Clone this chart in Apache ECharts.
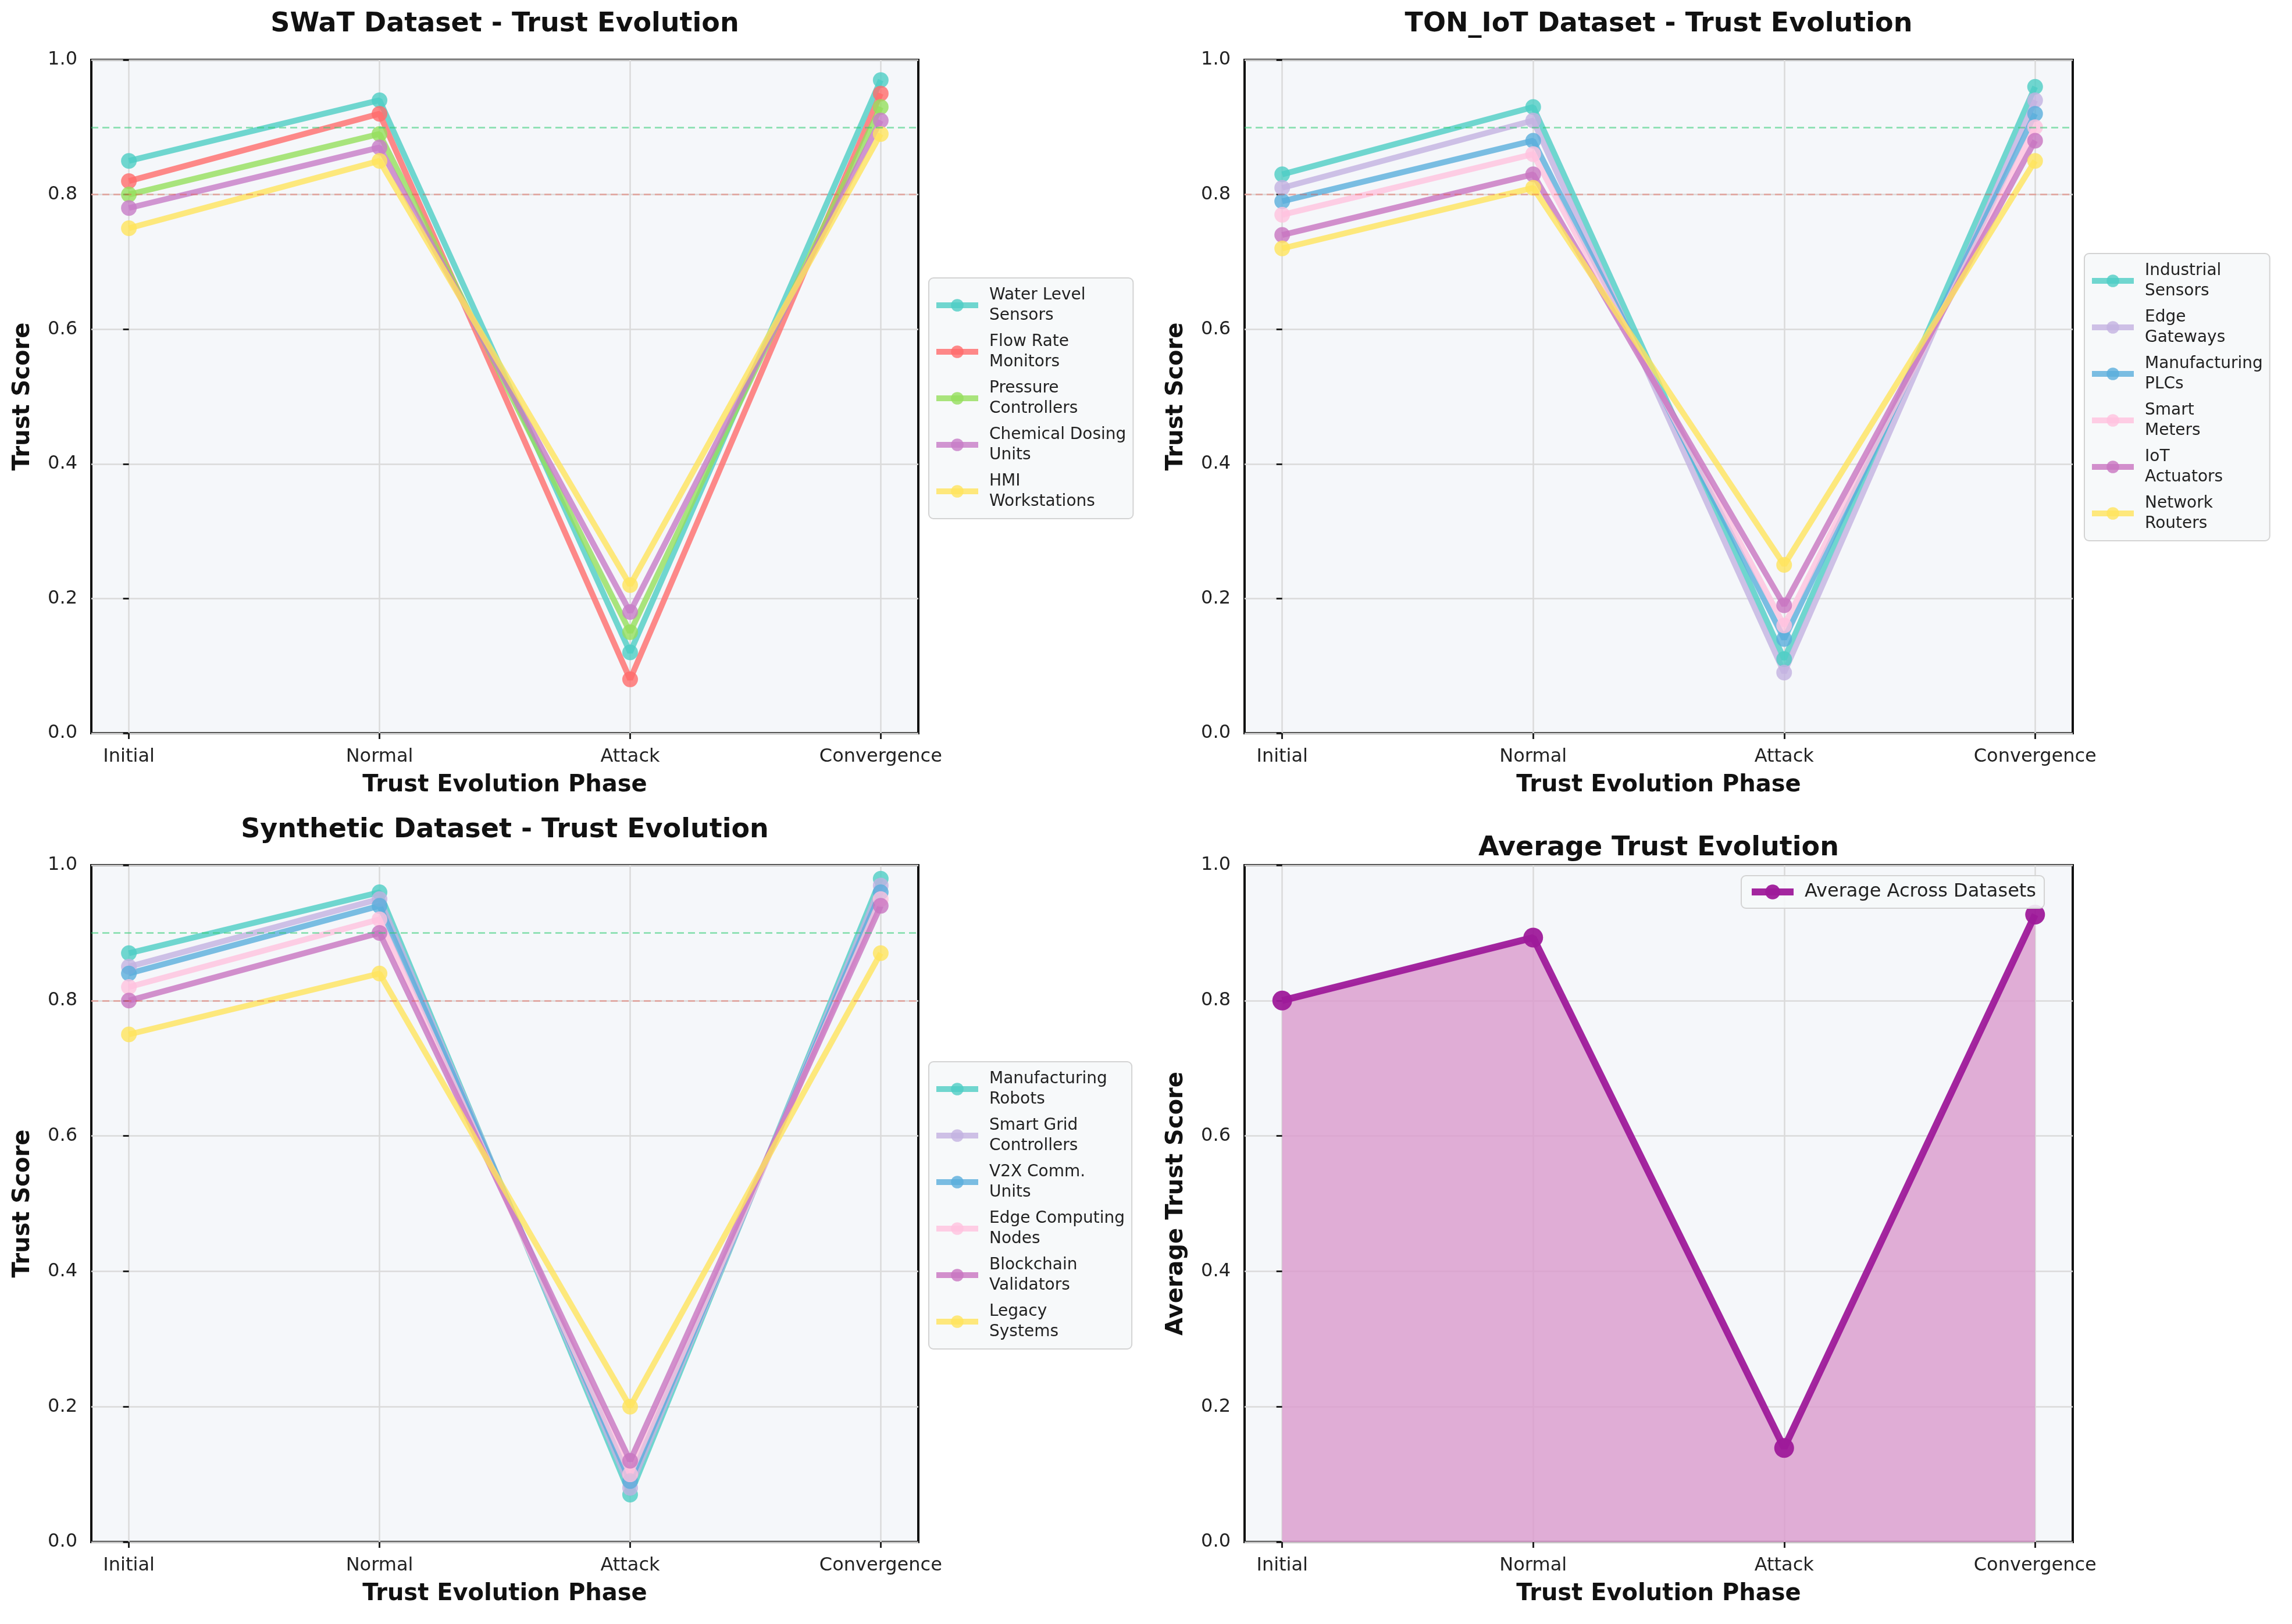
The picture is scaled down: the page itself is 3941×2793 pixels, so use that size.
<!DOCTYPE html>
<html>
<head>
<meta charset="utf-8">
<script src="https://cdn.jsdelivr.net/npm/echarts@6/dist/echarts.min.js"></script>
<style>
  html, body { margin: 0; padding: 0; background: #ffffff; }
  #main { width: 3941px; height: 2793px; }
</style>
</head>
<body>
<div id="main"></div>
<script>
// ---------- data ----------
const phases = ['Initial', 'Normal', 'Attack', 'Convergence'];
const thresholds = [0.9, 0.8];

// SWaT
const swatNames = ['Water Level\nSensors', 'Flow Rate\nMonitors', 'Pressure\nControllers', 'Chemical Dosing\nUnits', 'HMI\nWorkstations'];
const swatWaterLevel = [0.85, 0.94, 0.12, 0.97];
const swatFlowRate   = [0.82, 0.92, 0.08, 0.95];
const swatPressure   = [0.80, 0.89, 0.15, 0.93];
const swatChemical   = [0.78, 0.87, 0.18, 0.91];
const swatHMI        = [0.75, 0.85, 0.22, 0.89];

// TON_IoT
const tonNames = ['Industrial\nSensors', 'Edge\nGateways', 'Manufacturing\nPLCs', 'Smart\nMeters', 'IoT\nActuators', 'Network\nRouters'];
const tonIndustrial = [0.83, 0.93, 0.11, 0.96];
const tonEdge       = [0.81, 0.91, 0.09, 0.94];
const tonPLC        = [0.79, 0.88, 0.14, 0.92];
const tonMeters     = [0.77, 0.86, 0.16, 0.90];
const tonActuators  = [0.74, 0.83, 0.19, 0.88];
const tonRouters    = [0.72, 0.81, 0.25, 0.85];

// Synthetic
const synNames = ['Manufacturing\nRobots', 'Smart Grid\nControllers', 'V2X Comm.\nUnits', 'Edge Computing\nNodes', 'Blockchain\nValidators', 'Legacy\nSystems'];
const synRobots     = [0.87, 0.96, 0.07, 0.98];
const synGrid       = [0.85, 0.95, 0.08, 0.97];
const synV2X        = [0.84, 0.94, 0.09, 0.96];
const synEdge       = [0.82, 0.92, 0.10, 0.95];
const synBlockchain = [0.80, 0.90, 0.12, 0.94];
const synLegacy     = [0.75, 0.84, 0.20, 0.87];

// Average
const avgName = 'Average Across Datasets';
const avgValues = [0.80, 0.893, 0.139, 0.927];

// ---------- styling ----------
const FONT = 'DejaVu Sans';
const swatColors = ['#4ECDC4', '#FF6B6B', '#95DE5C', '#C77CC7', '#FFE45C'];
const sixColors  = ['#4ECDC4', '#C3B1E1', '#5AAEDC', '#FFC2DE', '#C874C0', '#FFE45C'];

const grids = [
  { left: 157,  top: 103,  width: 1422, height: 1158 },
  { left: 2140, top: 103,  width: 1424, height: 1158 },
  { left: 157,  top: 1488, width: 1422, height: 1164 },
  { left: 2140, top: 1488, width: 1424, height: 1164 }
];
const titles = [
  { text: 'SWaT Dataset - Trust Evolution',      x: 868,  y: 19 },
  { text: 'TON_IoT Dataset - Trust Evolution',   x: 2852, y: 19 },
  { text: 'Synthetic Dataset - Trust Evolution', x: 868,  y: 1405 },
  { text: 'Average Trust Evolution',             x: 2852, y: 1436 }
];
const yNames = ['Trust Score', 'Trust Score', 'Trust Score', 'Average Trust Score'];

function toPairs(arr) { return arr.map((v, i) => [i, v]); }

const xAxes = grids.map((g, i) => ({
  type: 'value', gridIndex: i, min: -0.15, max: 3.15,
  name: 'Trust Evolution Phase', nameLocation: 'middle', nameGap: 70,
  nameTextStyle: { fontFamily: FONT, fontSize: 40, fontWeight: 'bold', color: '#111' },
  axisLine: { show: false },
  axisTick: { show: true, length: 10, lineStyle: { color: '#222', width: 3 }, customValues: [0, 1, 2, 3] },
  axisLabel: { customValues: [0, 1, 2, 3], margin: 25, fontFamily: FONT, fontSize: 32, color: '#222',
               formatter: v => phases[Math.round(v)] || '' },
  splitLine: { show: true, lineStyle: { color: '#DADADA', width: 2.5 } }
}));
const yAxes = grids.map((g, i) => ({
  type: 'value', gridIndex: i, min: 0, max: 1, interval: 0.2,
  name: yNames[i], nameLocation: 'middle', nameGap: 97,
  nameTextStyle: { fontFamily: FONT, fontSize: 40, fontWeight: 'bold', color: '#111' },
  axisLine: { show: false },
  axisTick: { show: true, length: 10, lineStyle: { color: '#222', width: 3 } },
  axisLabel: { margin: 24, fontFamily: FONT, fontSize: 32, color: '#222', formatter: v => v.toFixed(1) },
  splitLine: { show: true, lineStyle: { color: '#DADADA', width: 2.5 } }
}));

function thresholdMarkLine() {
  return {
    silent: true, symbol: 'none', label: { show: false }, animation: false,
    data: [
      { yAxis: thresholds[0], lineStyle: { color: '#2ECC71', opacity: 0.5, type: [12, 7], width: 3 } },
      { yAxis: thresholds[1], lineStyle: { color: '#E74C3C', opacity: 0.35, type: [12, 7], width: 3 } }
    ]
  };
}

function lineSeries(name, values, color, gi, withMark) {
  const s = {
    type: 'line', name: name, xAxisIndex: gi, yAxisIndex: gi,
    data: toPairs(values),
    symbol: 'circle', symbolSize: 27, showSymbol: true,
    lineStyle: { color: color, width: 10, opacity: 0.8 },
    itemStyle: { color: color, opacity: 0.8 },
    emphasis: { disabled: true },
    animation: false
  };
  if (withMark) s.markLine = thresholdMarkLine();
  return s;
}

const series = [];
[swatWaterLevel, swatFlowRate, swatPressure, swatChemical, swatHMI].forEach((d, k) =>
  series.push(lineSeries(swatNames[k], d, swatColors[k], 0, k === 0)));
[tonIndustrial, tonEdge, tonPLC, tonMeters, tonActuators, tonRouters].forEach((d, k) =>
  series.push(lineSeries(tonNames[k], d, sixColors[k], 1, k === 0)));
[synRobots, synGrid, synV2X, synEdge, synBlockchain, synLegacy].forEach((d, k) =>
  series.push(lineSeries(synNames[k], d, sixColors[k], 2, k === 0)));
series.push({
  type: 'line', name: avgName, xAxisIndex: 3, yAxisIndex: 3,
  data: toPairs(avgValues),
  symbol: 'circle', symbolSize: 34, showSymbol: true,
  lineStyle: { color: '#9E1A9A', width: 12, opacity: 0.95 },
  itemStyle: { color: '#9E1A9A', opacity: 0.95 },
  areaStyle: { color: '#DB9ACD', opacity: 0.8 },
  emphasis: { disabled: true },
  animation: false
});

function legendCfg(names, left, top) {
  return {
    data: names, orient: 'vertical', left: left, top: top,
    backgroundColor: 'rgba(246,248,250,0.9)', borderColor: '#D3D3D3', borderWidth: 2, borderRadius: 8,
    padding: [12, 12, 12, 8], itemWidth: 72, itemHeight: 27, itemGap: 10,
    selectedMode: false,
    lineStyle: { width: 10 },
    textStyle: { fontFamily: FONT, fontSize: 28, lineHeight: 35, color: '#222', padding: [0, 0, 0, 14] }
  };
}

const option = {
  backgroundColor: '#ffffff',
  animation: false,
  title: titles.map(t => ({
    text: t.text, left: t.x, top: t.y, textAlign: 'center', padding: 0,
    textStyle: { fontFamily: FONT, fontSize: 46, fontWeight: 'bold', color: '#111' }
  })),
  grid: grids.map(g => ({
    left: g.left, top: g.top, width: g.width, height: g.height,
    show: true, backgroundColor: '#F5F7FA', borderColor: '#111111', borderWidth: 4, containLabel: false
  })),
  xAxis: xAxes,
  yAxis: yAxes,
  legend: [
    legendCfg(swatNames, 1597, 478),
    legendCfg(tonNames, 3584, 436),
    legendCfg(synNames, 1597, 1826),
    {
      data: [avgName], orient: 'horizontal', left: 2994, top: 1506,
      backgroundColor: 'rgba(246,248,250,0.9)', borderColor: '#D3D3D3', borderWidth: 2, borderRadius: 8,
      padding: [12, 14, 12, 12], itemWidth: 72, itemHeight: 32, selectedMode: false,
      lineStyle: { width: 12 },
      textStyle: { fontFamily: FONT, fontSize: 32, color: '#222', padding: [0, 0, 0, 14] }
    }
  ],
  series: series
};

const chart = echarts.init(document.getElementById('main'), null, { renderer: 'canvas' });
chart.setOption(option);
</script>
</body>
</html>
